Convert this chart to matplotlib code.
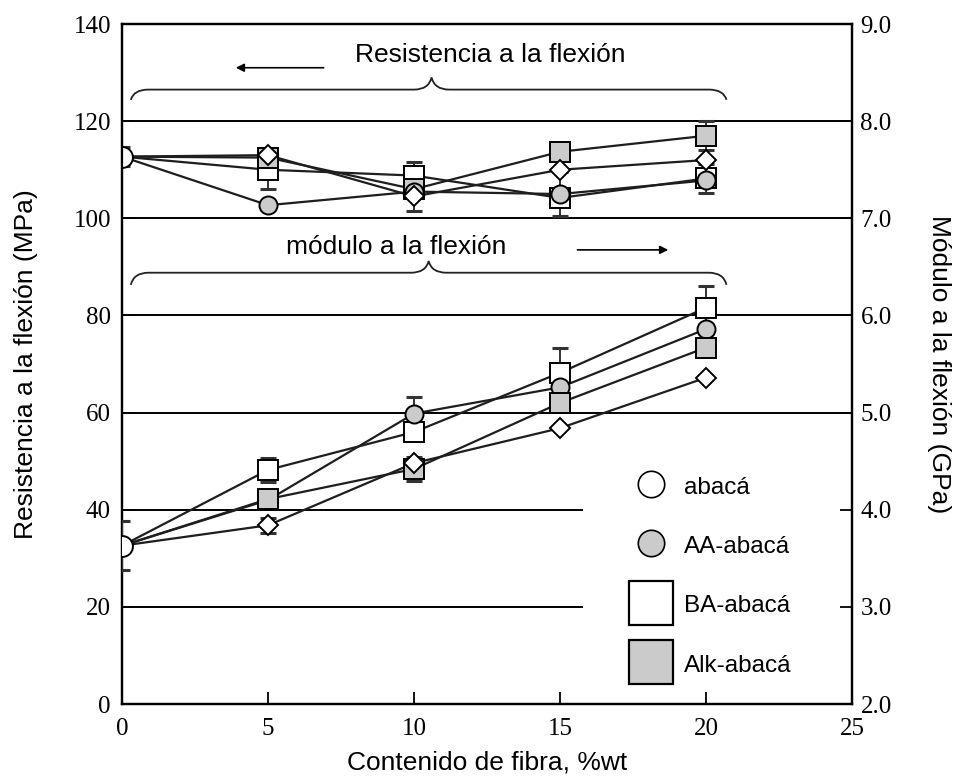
import numpy as np
import matplotlib as mpl
mpl.use('Agg')
import matplotlib.pyplot as plt
from matplotlib.path import Path
from matplotlib.patches import PathPatch
from matplotlib.lines import Line2D

# Fibre content (%wt)
fibra = [0, 5, 10, 15, 20]

# Flexural strength (MPa), left axis
res_abaca = [112.7, 113.0, 104.5, 110.0, 112.0]
res_aa = [112.7, 102.7, 105.5, 105.0, 107.8]
res_ba = [112.7, 110.0, 108.8, 104.2, 108.2]
res_alk = [112.7, 112.5, 106.0, 113.7, 117.0]
err_res_abaca = [0, 1.5, 3.0, 0, 0]
err_res_aa = [0, 0, 0, 4.6, 0]
err_res_ba = [2.0, 4.0, 2.7, 0, 3.0]
err_res_alk = [0, 2.0, 0, 1.5, 3.0]

# Flexural modulus (GPa), right axis
mod_abaca = [3.63, 3.84, 4.48, 4.84, 5.36]
mod_aa = [3.63, 4.10, 4.99, 5.26, 5.86]
mod_ba = [3.63, 4.41, 4.80, 5.41, 6.08]
mod_alk = [3.63, 4.11, 4.42, 5.10, 5.67]
err_mod_abaca = [0, 0.08, 0, 0, 0]
err_mod_aa = [0, 0, 0.17, 0, 0]
err_mod_ba = [0.25, 0.12, 0, 0.26, 0.22]
err_mod_alk = [0, 0, 0.12, 0, 0]

etiquetas = ['abacá', 'AA-abacá', 'BA-abacá', 'Alk-abacá']

SERIF = 'Liberation Serif'
SANS = 'Liberation Sans'
GRIS = '#cbcbcb'
LINEA = '#1e1e1e'

fig = plt.figure(figsize=(9.64, 7.8), dpi=100)
ax = fig.add_axes([0.1266, 0.0974, 0.7573, 0.8718])
ax2 = ax.twinx()

ax.set_xlim(0, 25)
ax.set_ylim(0, 140)
ax2.set_ylim(2.0, 9.0)
ax.set_xticks([0, 5, 10, 15, 20, 25])
ax.set_yticks(np.arange(0, 141, 20))
ax2.set_yticks(np.arange(2.0, 9.01, 1.0))
ax2.set_yticklabels(['%.1f' % v for v in np.arange(2.0, 9.01, 1.0)])

for a in (ax, ax2):
    a.tick_params(direction='in', length=9, width=1.3, labelsize=18)
    for lab in a.get_xticklabels() + a.get_yticklabels():
        lab.set_family(SERIF)
    for s in a.spines.values():
        s.set_linewidth(1.6)
ax.tick_params(axis='x', pad=10)
ax.tick_params(axis='y', pad=8)
ax2.tick_params(axis='y', pad=6)

# horizontal reference lines
for yv in [60, 80, 100, 120]:
    ax.axhline(yv, color='black', lw=1.4, zorder=1)
ax.hlines([20, 40], 0, 15.8, color='black', lw=1.4, zorder=1)

estilos = [
    dict(marker='D', mfc='white', ms=10),
    dict(marker='o', mfc=GRIS, ms=13),
    dict(marker='s', mfc='white', ms=14),
    dict(marker='s', mfc=GRIS, ms=14),
]


def dibujar(eje, ys, errs, orden):
    for i in orden:
        eje.plot(fibra, ys[i], color=LINEA, lw=1.6, zorder=2)
    for i in orden:
        x = [f for f, e in zip(fibra, errs[i]) if e > 0]
        y = [v for v, e in zip(ys[i], errs[i]) if e > 0]
        e = [e for e in errs[i] if e > 0]
        eje.errorbar(x, y, yerr=e, fmt='none', ecolor='#333333', elinewidth=1.4,
                     capsize=6, capthick=2.2, zorder=3)
    for i in orden:
        st = estilos[i]
        eje.plot(fibra[1:], ys[i][1:], ls='none', marker=st['marker'], ms=st['ms'],
                 mfc=st['mfc'], mec='black', mew=1.4, zorder=4)
    # common starting point (neat matrix)
    eje.plot(fibra[0], ys[0][0], ls='none', marker='o', ms=15, mfc='white',
             mec='black', mew=1.4, zorder=5)


dibujar(ax, [res_abaca, res_aa, res_ba, res_alk],
        [err_res_abaca, err_res_aa, err_res_ba, err_res_alk], [2, 3, 1, 0])
dibujar(ax2, [mod_abaca, mod_aa, mod_ba, mod_alk],
        [err_mod_abaca, err_mod_aa, err_mod_ba, err_mod_alk], [2, 1, 3, 0])


def llave(eje, x0, x1, xm, y_fin, y_plano, y_pico):
    verts = [(x0, y_fin), (x0 + 0.1, y_plano), (x0 + 0.6, y_plano),
             (xm - 0.6, y_plano),
             (xm - 0.1, y_plano), (xm, y_pico),
             (xm + 0.1, y_plano), (xm + 0.6, y_plano),
             (x1 - 0.6, y_plano),
             (x1 - 0.1, y_plano), (x1, y_fin)]
    codes = [Path.MOVETO, Path.CURVE3, Path.CURVE3, Path.LINETO,
             Path.CURVE3, Path.CURVE3, Path.CURVE3, Path.CURVE3,
             Path.LINETO, Path.CURVE3, Path.CURVE3]
    eje.add_patch(PathPatch(Path(verts, codes), fill=False, lw=1.3,
                            edgecolor='#222222', zorder=2))


llave(ax, 0.3, 20.7, 10.6, 124.4, 126.5, 129.0)
llave(ax, 0.3, 20.7, 10.5, 86.3, 88.8, 91.2)

ax.text(12.6, 133.6, 'Resistencia a la flexión', ha='center', va='center',
        family=SANS, fontsize=19)
ax.annotate('', xy=(3.8, 131.0), xytext=(7.0, 131.0),
            arrowprops=dict(arrowstyle='-|>', lw=1.2, color='black', mutation_scale=12))
ax.text(9.4, 94.1, 'módulo a la flexión', ha='center', va='center',
        family=SANS, fontsize=19)
ax.annotate('', xy=(18.8, 93.5), xytext=(15.5, 93.5),
            arrowprops=dict(arrowstyle='-|>', lw=1.2, color='black', mutation_scale=12))

ax.set_xlabel('Contenido de fibra, %wt', family=SANS, fontsize=19)
ax.set_ylabel('Resistencia a la flexión (MPa)', family=SANS, fontsize=19)
ax2.set_ylabel('Módulo a la flexión (GPa)', family=SANS, fontsize=19, rotation=-90,
               va='center')
ax.xaxis.set_label_coords(0.5, -0.068)
ax.yaxis.set_label_coords(-0.115, 0.5)
ax2.yaxis.set_label_coords(1.119, 0.5)

handles = [
    Line2D([], [], ls='none', marker='o', ms=19, mfc='white', mec='black', mew=1.2),
    Line2D([], [], ls='none', marker='o', ms=19, mfc=GRIS, mec='black', mew=1.2),
    Line2D([], [], ls='none', marker='s', ms=32, mfc='white', mec='black', mew=1.6),
    Line2D([], [], ls='none', marker='s', ms=32, mfc=GRIS, mec='black', mew=1.6),
]
leg = ax.legend(handles, etiquetas, loc='upper left', bbox_to_anchor=(0.672, 0.37),
                frameon=False, prop={'family': SANS, 'size': 17.5}, handlelength=1.35,
                handleheight=1.0, labelspacing=1.45, handletextpad=0.7)
leg.set_zorder(6)

fig.savefig('out.png', dpi=100)
